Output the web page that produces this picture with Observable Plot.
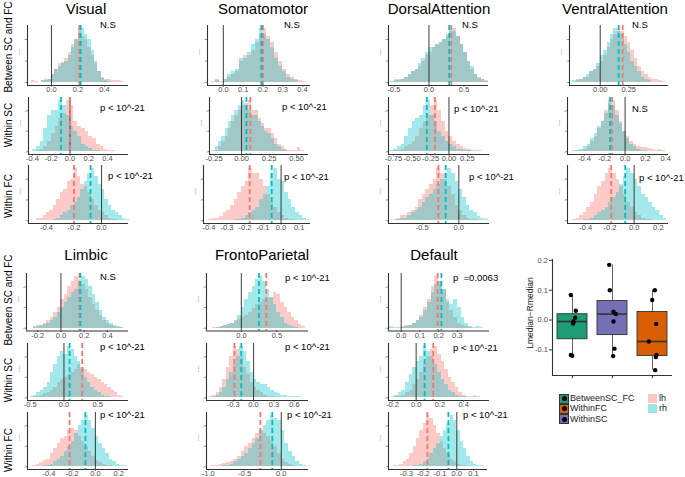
<!DOCTYPE html>
<html><head><meta charset="utf-8">
<script src="https://cdn.jsdelivr.net/npm/d3@7"></script>
<script src="https://cdn.jsdelivr.net/npm/@observablehq/plot@0.6"></script>
<style>
body{margin:0;background:#fff;font-family:"Liberation Sans",Arial,sans-serif;}
#root{position:relative;width:685px;height:477px;overflow:hidden;background:#fff;}
.abs{position:absolute;white-space:pre;line-height:1;}
.pw{position:absolute;}
.pw svg{overflow:visible;}
</style></head><body><div id="root"></div><script>
// ---------- DATA ----------
const networks = ["Visual","Somatomotor","DorsalAttention","VentralAttention","Limbic","FrontoParietal","Default"];
const comparisons = ["Between SC and FC","Within SC","Within FC"];
const hemispheres = ["lh","rh"];

// bin start / bin width for [Between SC and FC, Within SC, Within FC]; counts in relative units
const visualBinStart = [-0.15, -0.4, -0.5];
const visualBinWidth = [0.025, 0.04, 0.025];
const visualLh = [
  [0.3,0.2,0,0.3,0.5,0.6,1.5,2.5,3.5,3.8,4.5,5.5,7,8,10,8.5,8,6.5,5,3.5,2,1,0.6,0.5,0.4,0.3,0.3,0.2],
  [0,0.3,0.5,1,2,3.5,5,6.5,7.5,10,9,6,5,4.5,4,3,2.5,1.5,1,0.5,0.3,0.2,0.1,0],
  [0,0.5,0.5,1,1.5,2,3,4,5.5,6,7.5,8,10,8.5,7,6.5,5.5,4,3,2,1.5,1,0.5,0.3,0.2,0,0,0]];
const visualRh = [
  [0,0,0.1,0.3,0.4,0.5,1.5,2.5,3,3.5,4,5,6.5,8,9.5,10,9,8,6,4,2,0.8,0.4,0.2,0.1,0,0,0],
  [0.5,1,2,4.5,7,8,8,10,9,7,5,4,3,1.5,1,0.6,0.3,0.2,0,0,0,0,0,0],
  [0,0,0,0,0,0,0.2,0.5,1,1.5,2,3,3.5,4.5,6,7.5,9,10,8.5,7,6,4,3,2,1.5,1,0.5,0.2]];
const visualMedLh = [0.21, 0.0, -0.2];
const visualMedRh = [0.22, -0.096, -0.08];
const visualTicks = [[0,0.2,0.4],[-0.4,-0.2,0,0.2,0.4],[-0.4,-0.2,0]];
const visualPLabels = ["N.S","p < 10^-21","p < 10^-21"];

const somatomotorBinStart = [-0.06, -0.3, -0.4];
const somatomotorBinWidth = [0.02, 0.03, 0.02];
const somatomotorLh = [
  [0.2,0.3,0.2,0.5,1,1.5,2,4,5,5,6,7.5,9,10,8.5,7.5,5.5,4,2.5,1.5,1,0.5,0.3,0.2],
  [0,0,0.3,1,2,3,4.5,6,7,8,9,9.5,10,8,8,6.5,5.5,4.5,4.5,3.5,2.5,1.5,1,0.5,0.3,0.2,0.2,0.8,0.2,0],
  [0.3,0.5,0.5,0.8,1.5,2,3,4,5.5,6.5,7.5,10,9,9,8,6.5,5,3.5,2.5,1.5,1,0.5,0.3,0.2,0,0,0,0]];
const somatomotorRh = [
  [0,0.5,0.1,0.5,1.5,2,2.5,4.5,4.5,5.5,7,8,10,9,8,6.5,4.5,3,2,1,0.5,0.3,0.1,0],
  [0,0.3,1,2,3,4.5,6,7,8,9,10,9,8,7,7,6,5,4,3.5,2.5,1.5,1,0.5,0.2,0.1,0,0,0,0,0],
  [0,0,0,0,0,0,0,0.2,0.3,0.5,1,1.5,2,2.5,4,5,6.5,9,10,8,7.5,5.5,4,2.5,1.5,1,0.5,0.2]];
const somatomotorMedLh = [0.2, 0.08, -0.174];
const somatomotorMedRh = [0.192, 0.045, -0.052];
const somatomotorTicks = [[0,0.1,0.2,0.3,0.4],[-0.25,0,0.25,0.5],[-0.4,-0.3,-0.2,-0.1,0,0.1]];
const somatomotorPLabels = ["N.S","p < 10^-21","p < 10^-21"];

const dorsalBinStart = [-0.55, -0.8, -0.95];
const dorsalBinWidth = [0.05, 0.05, 0.05];
const dorsalLh = [
  [0,0.3,0.5,0.5,1,1.5,2,2.5,3,4,5,5.5,6.5,7,7.5,8,8.5,9.5,10,8.5,7,5.5,4,2.5,1.5,1,0.5,0.3],
  [0,0.2,0.3,0.5,1,1.5,2,3,4.5,6,7,9,10,8,6,4,3,2,1.5,1,0.7,0.5,0.3,0.3,0.2,0.1,0],
  [0,0.3,0.5,1,1,1.5,2,2.5,4,5,6,7,8,10,9,8,6.5,5,3,2,1,0.5,0.3,0.2,0,0,0,0]];
const dorsalRh = [
  [0.2,0.5,0.3,0.5,1,1.5,2,2.5,3.5,4.5,5.5,6.5,6.5,7,7.5,8,9,10,9.5,8.5,7,5.5,4,3,1.5,0.8,0.5,0.2],
  [0.3,0.5,1,1.5,3,4.5,6,6.5,7,9,10,7,6,4,3,2,1.5,1,0.5,0.4,0.3,0.2,0.1,0,0,0,0],
  [0,0,0.3,0.5,0.5,1,1.5,2,2.5,3.5,4.5,5,6,7,8,9,10,9,7.5,6,4.5,3,2,1.5,0.8,0.5,0.3,0.1]];
const dorsalMedLh = [0.32, -0.19, -0.28];
const dorsalMedRh = [0.29, -0.30, -0.18];
const dorsalTicks = [[-0.5,0,0.5],[-0.75,-0.5,-0.25,0,0.25],[-0.5,0]];
const dorsalPLabels = ["N.S","p < 10^-21","p < 10^-21"];

const ventralBinStart = [-0.24, -0.55, -0.54];
const ventralBinWidth = [0.03, 0.035, 0.03];
const ventralLh = [
  [0,0.3,0.5,1,1,2,2.5,3,4,5,6.5,8,9,10,9.5,8.5,7.5,6,4.5,3,2,1.5,1,0.5,0.5,0.3,0.2],
  [0,0,0.2,0.3,0.5,1,2,3,4.5,6,8,9.5,10,8,6,4,3,2,1.5,1,0.8,0.8,0.6,0.5,0.3,0.4,0.2,0],
  [0,0.3,0.5,1,1.5,2.5,3.5,5,6.5,7.5,9,10,9,8,6.5,5,3.5,2.5,1.5,1,0.5,0.3,0.2,0,0,0,0]];
const ventralRh = [
  [0.3,0.5,0.5,1,1.5,2,2.5,3.5,5,6,7.5,9,10,9.5,9,7,5.5,4,3,2,1,0.5,0.3,0.1,0,0,0],
  [0,0.2,0.3,0.5,1,1.5,2.5,3.5,5,6,7.5,10,9,7,5.5,4,2.5,1.5,1,0.5,0.3,0.2,0,0,0,0,0,0],
  [0,0,0,0,0.2,0.3,0.5,1,1.5,2,2.5,3.5,4.5,5.5,7,8.5,10,9,8,6.5,5,4.5,3.5,2.5,2,1,0.5]];
const ventralMedLh = [0.197, -0.128, -0.19];
const ventralMedRh = [0.162, -0.148, -0.074];
const ventralTicks = [[0,0.25],[-0.4,-0.2,0,0.2,0.4],[-0.4,-0.2,0,0.2]];
const ventralPLabels = ["N.S","N.S","p < 10^-21"];

const limbicBinStart = [-0.27, -0.5, -0.57];
const limbicBinWidth = [0.03, 0.05, 0.03];
const limbicLh = [
  [0,0.3,0.5,0.5,1,1.5,2,3,4,5.5,6.5,8,9,10,9.5,8.5,7.5,6,4.5,3.5,2.5,1.5,1,0.5,0.3,0.2,0.2,0],
  [0,0.2,0.3,0.5,0.8,1,1.5,2,3,3.5,4,4.5,5,5.5,6.5,6,5.5,5,4.5,4,3.5,3,2.5,2,1.5,1,0.5,0.3],
  [0,0.2,0.4,0.8,1.2,1.5,2.5,3.5,4.5,5.5,6,7,7.5,7,6,5,4,3,2,1.2,0.8,0.4,0.3,0.2,0,0,0,0]];
const limbicRh = [
  [0,0.2,0.3,0.5,0.8,1,1.5,2,3,4,5,6,7,7.5,9,10,9.5,8,6.5,5,3.5,2,1.5,1,0.5,0.3,0.1,0],
  [0.3,0.5,1,1.5,2,3,5,6.5,8,9,8.5,10,9.5,8,7,5.5,4,3,2,1.5,1,0.5,0.3,0.2,0,0,0,0],
  [0,0,0,0,0.2,0.3,0.5,1,1.5,2,3,4,5,6.5,8,9,10,9,7.5,6,4.5,3.5,2.5,1.5,1,0.5,0.3,0.2]];
const limbicMedLh = [0.16, 0.27, -0.223];
const limbicMedRh = [0.167, 0.084, -0.086];
const limbicTicks = [[-0.2,0,0.2,0.4],[-0.5,0,0.5],[-0.4,-0.2,0,0.2]];
const limbicPLabels = ["N.S","p < 10^-21","p < 10^-21"];

const frontoBinStart = [-0.4, -0.65, -1.0];
const frontoBinWidth = [0.05, 0.05, 0.05];
const frontoLh = [
  [0.2,0.2,0.3,0.5,0.7,1,1.3,1.7,2,2.5,3,3.8,4.5,5,5.5,5.8,6,7,6.5,5,4,3,2,1.5,0.8,0.4],
  [0.3,0.5,1,2,3.5,6,8,10,9.5,8,6,4.5,3,2,1.5,1,0.5,0.3,0.2,0,0,0,0,0,0,0,0,0],
  [0.1,0.2,0.2,0.4,0.6,0.8,1,1.5,2,3,4,4.5,5.5,6.5,7,6.5,6,5,4,2.5,1.5,0.8,0.4,0.2,0.1,0,0,0]];
const frontoRh = [
  [0,0.2,0.3,0.5,0.8,1,1.5,2.5,4,5.5,7,8,9.5,10,9,7.5,6,4.5,3,2,1,0.5,0.3,0.1,0,0],
  [0,0.3,0.5,1,2,3.5,5,6.5,8,10,9,7,5,3.5,3,2.5,2.5,2,1.5,1,0.8,0.5,0.5,0.3,0.3,0.3,0.2,0],
  [0,0,0,0,0.2,0.3,0.5,1,1.5,2,2.5,3.5,4.5,5.5,7,8,9,10,9.5,9,7,4.5,3,2,1,0.5,0.2,0.1]];
const frontoMedLh = [0.35, -0.28, -0.286];
const frontoMedRh = [0.248, -0.18, -0.123];
const frontoTicks = [[0,0.5],[-0.3,0,0.3,0.6],[-1,-0.5,0]];
const frontoPLabels = ["p < 10^-21","p < 10^-21","p < 10^-21"];

const defaultBinStart = [-0.06, -0.21, -0.4];
const defaultBinWidth = [0.02, 0.03, 0.02];
const defaultLh = [
  [0,0.2,0,0.3,0.5,0.5,1,1.5,2.5,4,5.5,8,10,9,7.5,5,3.5,2,1,0.5,0.3,0.2,0,0,0,0],
  [0,0.2,0.3,0.5,1,1.5,2.5,3.5,5,6.5,8,9.5,10,8.5,7,5.5,4,3,2,1,0.5,0.3,0.3,0.5,0.2,0.1,0],
  [0,0.2,0.3,0.5,1,1.5,2.5,4,5.5,7,8.5,10,9.5,8,6.5,5,3.5,2.5,1.5,1,0.5,0.3,0.2,0,0,0,0,0,0]];
const defaultRh = [
  [0.3,0,0.2,0.2,0.3,0.5,1,1.5,2,3.5,5,7,8.5,9,7.5,5.5,4.5,5.5,4,2,1,0.3,0.2,0.3,0.2,0],
  [0.2,0.5,1,1.5,3,4.5,6,7,8,10,9,8,6.5,5,3.5,2.5,1.5,1,0.5,0.3,0.2,0,0,0,0,0,0],
  [0,0,0,0,0,0,0,0.2,0.3,0.5,1,1.5,2.5,3.5,4.5,6,7,8.5,10,9,7,5,3.5,2,1,0.5,0.3,0.2,0]];
const defaultMedLh = [0.195, 0.144, -0.175];
const defaultMedRh = [0.215, 0.071, -0.05];
const defaultTicks = [[0,0.1,0.2,0.3],[-0.2,0,0.2,0.4],[-0.3,-0.2,-0.1,0,0.1]];
const defaultPLabels = ["p  =0.0063","p < 10^-21","p < 10^-21"];

// boxplot of Lmedian - Rmedian (one point per network)
const boxGroups = ["BetweenSC_FC","WithinSC","WithinFC"];
const boxColors = ["#1B9E77","#7570B3","#D95F02"];
const betweenDiff = [0.084,0.031,0.008,-0.005,-0.012,-0.117,-0.12];
const withinSCDiff = [0.185,0.1,0.028,0.02,-0.005,-0.096,-0.121];
const withinFCDiff = [0.1,0.067,-0.013,-0.072,-0.117,-0.124,-0.168];
const betweenJitter = [-0.042,0.083,0.067,0.025,0.017,-0.042,-0.008];
const withinSCJitter = [-0.083,-0.067,0.025,0.083,0.025,0.05,0.017];
const withinFCJitter = [0.058,-0.008,0.092,-0.092,0.1,0.083,0.067];
const boxTicks = [-0.1,0,0.1,0.2];
const legendGroups = ["BetweenSC_FC","WithinFC","WithinSC"];
const legendGroupColors = ["#1B9E77","#D95F02","#7570B3"];

// ---------- LAYOUT ----------
const networkData = [
  [visualBinStart,visualBinWidth,visualLh,visualRh,visualMedLh,visualMedRh,visualTicks,visualPLabels],
  [somatomotorBinStart,somatomotorBinWidth,somatomotorLh,somatomotorRh,somatomotorMedLh,somatomotorMedRh,somatomotorTicks,somatomotorPLabels],
  [dorsalBinStart,dorsalBinWidth,dorsalLh,dorsalRh,dorsalMedLh,dorsalMedRh,dorsalTicks,dorsalPLabels],
  [ventralBinStart,ventralBinWidth,ventralLh,ventralRh,ventralMedLh,ventralMedRh,ventralTicks,ventralPLabels],
  [limbicBinStart,limbicBinWidth,limbicLh,limbicRh,limbicMedLh,limbicMedRh,limbicTicks,limbicPLabels],
  [frontoBinStart,frontoBinWidth,frontoLh,frontoRh,frontoMedLh,frontoMedRh,frontoTicks,frontoPLabels],
  [defaultBinStart,defaultBinWidth,defaultLh,defaultRh,defaultMedLh,defaultMedRh,defaultTicks,defaultPLabels]
];
const panelX = [
  [[27,128],[28,128],[28,128]],
  [[207,310],[209,308],[203,310]],
  [[388,488],[388,489],[388,489]],
  [[569,668],[567,668],[567,668]],
  [[26,128],[27,128],[27,128]],
  [[206,308],[206,308],[206,308]],
  [[388,489],[388,489],[388,487]]
];
const blockY = [[[25,85],[97,154],[165,223]], [[273,330.5],[343,400],[412,469]]];
const xDomains = [
  [[-0.181,0.581],[-0.443,0.624],[-0.531,0.196]],
  [[-0.08,0.44],[-0.291,0.609],[-0.43,0.163]],
  [[-0.58,0.853],[-0.82,0.55],[-0.963,0.42]],
  [[-0.27,0.6],[-0.567,0.427],[-0.551,0.284]],
  [[-0.296,0.581],[-0.54,0.956],[-0.585,0.285]],
  [[-0.49,0.944],[-0.69,0.805],[-1.023,0.372]],
  [[-0.068,0.472],[-0.233,0.618],[-0.407,0.183]]
];
const labelPos = [
  [[100,25],[100,108],[108,176]],
  [[284,25],[282,107],[284,177]],
  [[462,25],[454,109],[469,177]],
  [[632,25],[632,109],[639,178]],
  [[100,277],[100,347],[100,415]],
  [[285,278],[285,347],[287,415]],
  [[453,278],[453,348],[463,415]]
];
const titlePos = [[86,8],[263,8],[439,8],[615,8],[86,254],[262,254],[434,254]];
const rowLabelY = [[47,125,196],[300,380,450]];
const hemiColor = {lh:"#F8766D", rh:"#00BFC4"};

const root = document.getElementById("root");
function addText(txt, x, y, {size=10, anchor="center", rotate=0, color="#000"}={}) {
  const d = document.createElement("div");
  d.className = "abs"; d.textContent = txt;
  d.style.left = x + "px"; d.style.top = y + "px";
  d.style.fontSize = size + "px"; d.style.color = color;
  const tx = anchor === "start" ? "0" : "-50%";
  d.style.transform = `translate(${tx},-50%)` + (rotate ? ` rotate(${rotate}deg)` : "");
  root.appendChild(d);
  return d;
}
function place(svg, left, top) {
  const w = document.createElement("div");
  w.className = "pw"; w.style.left = left + "px"; w.style.top = top + "px";
  w.appendChild(svg); root.appendChild(w);
}
function decimals(ticks) {
  return d3.max(ticks, t => { const s = String(t); const k = s.indexOf("."); return k < 0 ? 0 : s.length - k - 1; });
}

// ---------- HISTOGRAM PANELS ----------
networks.forEach((net, n) => {
  const block = n < 4 ? 0 : 1;
  const [bs, bw, lhA, rhA, mL, mR, tk, pl] = networkData[n];
  addText(net, titlePos[n][0], titlePos[n][1], {size: 15});
  for (let r = 0; r < 3; r++) {
    const [L, R] = panelX[n][r];
    const [T, B] = blockY[block][r];
    const bins = (arr, hemi) => arr.map((c, i) => ({x1: bs[r] + i * bw[r], x2: bs[r] + (i + 1) * bw[r], count: c, hemi}));
    const lhBins = bins(lhA[r], "lh"), rhBins = bins(rhA[r], "rh");
    const dec = Math.max(1, decimals(tk[r]));
    const fmt = t => d3.format(`.${dec}f`)(t).replace("\u2212", "-");
    const dom = xDomains[n][r];
    const yDom = [-0.55, 10.6];
    const ml = 12, mb = 10;
    const svg = Plot.plot({
      width: R - L + ml, height: B - T + mb,
      marginLeft: ml, marginRight: 0, marginTop: 0, marginBottom: mb,
      x: {domain: dom, label: null},
      y: {domain: yDom, label: null},
      style: {background: "transparent", fontFamily: "Liberation Sans, Arial, sans-serif", overflow: "visible"},
      marks: [
        Plot.rectY(lhBins, {x1: "x1", x2: "x2", y: "count", fill: hemiColor.lh, fillOpacity: 0.38, shapeRendering: "crispEdges"}),
        Plot.rectY(rhBins, {x1: "x1", x2: "x2", y: "count", fill: hemiColor.rh, fillOpacity: 0.36, shapeRendering: "crispEdges"}),
        Plot.ruleX([0], {stroke: "#222", strokeWidth: 1.1, strokeOpacity: 0.8}),
        Plot.ruleX([mL[r]], {stroke: hemiColor.lh, strokeWidth: 1.8, strokeDasharray: "5,3"}),
        Plot.ruleX([mR[r]], {stroke: hemiColor.rh, strokeWidth: 1.8, strokeDasharray: "5,3"}),
        Plot.ruleY([yDom[0]], {stroke: "#333", strokeWidth: 1.1}),
        Plot.ruleX([dom[0]], {stroke: "#333", strokeWidth: 1.1}),
        Plot.axisX({ticks: tk[r], tickFormat: fmt, tickSize: 1.5, tickPadding: 0, fontSize: 7.5, stroke: "#333", fill: "#4d4d4d", label: null}),
        Plot.axisY({ticks: [0, 4, 8], tickSize: 1.5, tickPadding: 0.5, fontSize: 2.5, color: "#777", label: null}),
        Plot.text(["count"], {frameAnchor: "left", dx: -8, rotate: -90, fontSize: 2.5, fill: "#777"})
      ]
    });
    place(svg, L - ml, T);
    addText(pl[r], labelPos[n][r][0], labelPos[n][r][1], {size: 9.5, anchor: "start"});
  }
});

// row labels
rowLabelY.forEach(ys => ys.forEach((y, r) => addText(comparisons[r], 9, y, {size: 10, rotate: -90})));

// ---------- BOXPLOT ----------
const diffs = [betweenDiff, withinSCDiff, withinFCDiff];
const jitters = [betweenJitter, withinSCJitter, withinFCJitter];
const stats = diffs.map((v, i) => {
  const s = v.slice().sort(d3.ascending);
  return {i: i + 1, group: boxGroups[i], color: boxColors[i],
    q1: d3.quantile(s, 0.25), med: d3.quantile(s, 0.5), q3: d3.quantile(s, 0.75),
    lo: d3.min(s), hi: d3.max(s)};
});
const pts = diffs.flatMap((v, i) => v.map((d, j) => ({x: i + 1 + jitters[i][j], y: d})));
const bL = 552, bR = 672, bT = 259, bB = 375;
const bml = 30, bmb = 10;
const bYDom = [-0.186, 0.203];
const boxSvg = Plot.plot({
  width: bR - bL + bml + 2, height: bB - bT + bmb,
  marginLeft: bml, marginRight: 2, marginTop: 0, marginBottom: bmb,
  x: {domain: [0.5, 3.5], label: null},
  y: {domain: bYDom, label: null},
  style: {background: "transparent", fontFamily: "Liberation Sans, Arial, sans-serif", overflow: "visible"},
  marks: [
    Plot.ruleX(stats, {x: "i", y1: "lo", y2: "hi", stroke: "#555", strokeWidth: 0.9}),
    Plot.rect(stats, {x1: d => d.i - 0.375, x2: d => d.i + 0.375, y1: "q1", y2: "q3", fill: "color", stroke: "#333", strokeWidth: 0.9}),
    Plot.ruleY(stats, {x1: d => d.i - 0.375, x2: d => d.i + 0.375, y: "med", stroke: "#333", strokeWidth: 1.6}),
    Plot.dot(pts, {x: "x", y: "y", r: 2.2, fill: "#000", stroke: "none"}),
    Plot.ruleY([bYDom[0]], {stroke: "#333", strokeWidth: 1.1}),
    Plot.ruleX([0.5], {stroke: "#333", strokeWidth: 1.1}),
    Plot.axisX({ticks: [1, 2, 3], tickFormat: () => "", tickSize: 3, stroke: "#333", label: null}),
    Plot.axisY({ticks: boxTicks, tickFormat: t => d3.format(".1f")(t).replace("\u2212", "-"), tickSize: 3, tickPadding: 1.5, fontSize: 7.5, stroke: "#333", fill: "#4d4d4d", label: null})
  ]
});
place(boxSvg, bL - bml, bT);
addText("Lmedian\u2212Rmedian", 530, 313, {size: 8.5, rotate: -90, color: "#222"});

// ---------- LEGENDS ----------
const legY = [398, 408.3, 418.6];
legendGroups.forEach((g, k) => {
  const sw = document.createElement("div");
  sw.className = "abs";
  Object.assign(sw.style, {left: "559px", top: (legY[k] - 4.5) + "px", width: "8px", height: "8px",
    background: legendGroupColors[k], border: "0.5px solid #333"});
  const dot = document.createElement("div");
  Object.assign(dot.style, {position: "absolute", left: "1.5px", top: "1.5px", width: "5px", height: "5px", borderRadius: "50%", background: "#000"});
  sw.appendChild(dot);
  root.appendChild(sw);
  addText(g, 570, legY[k], {size: 9, anchor: "start", color: "#222"});
});
hemispheres.forEach((h, k) => {
  const sw = document.createElement("div");
  sw.className = "abs";
  Object.assign(sw.style, {left: "648px", top: (legY[k] - 4.5) + "px", width: "9px", height: "9px",
    background: hemiColor[h], opacity: 0.4});
  root.appendChild(sw);
  addText(h, 659, legY[k], {size: 9, anchor: "start", color: "#222"});
});
</script></body></html>
